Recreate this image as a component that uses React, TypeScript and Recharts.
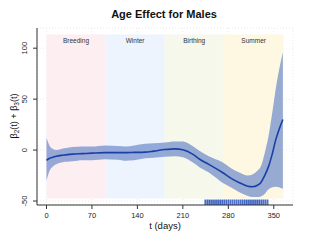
import React from 'react';
import {
  ComposedChart,
  Area,
  Line,
  XAxis,
  YAxis,
  CartesianGrid,
  ReferenceArea,
  ReferenceLine,
} from 'recharts';

const days = [0, 5, 10, 15, 25, 40, 55, 70, 90, 110, 122, 135, 152, 165, 182, 198, 210, 225, 236, 250, 271, 285, 297, 310, 317, 325, 330, 336, 342, 348, 353, 358, 364];
const mean = [-10, -8, -7, -6, -5, -4, -3.5, -3, -2.5, -2.5, -2.5, -2.3, -2, -1, 0.5, 1.2, 0.3, -4, -9, -14, -22, -28, -32, -35.5, -36, -34.5, -32, -25, -16, -3, 10, 20, 30];
const lower = [-30, -20, -16, -14, -12, -11, -10, -10, -9, -9.5, -10.5, -10, -8, -7.5, -6.5, -6, -7, -12, -17, -22, -32, -37, -41.5, -45, -46, -46, -45.5, -43, -38.5, -36.5, -36, -36.5, -38];
const upper = [12, 4, 1, 0, 1.5, 3, 3.5, 3.5, 4.6, 4, 3.5, 4.5, 6.3, 6.8, 7.5, 8.5, 8.5, 4, -1, -6, -12, -18, -22, -25, -24, -20, -16, -3, 14, 38, 60, 78, 96];

const seasons = ['Breeding', 'Winter', 'Birthing', 'Summer'];
const seasonStart = [0, 91, 182, 273];
const seasonEnd = [91, 182, 273, 365];
const seasonColors = ['#fdeef2', '#eef4fd', '#f5f8ea', '#fef8e2'];
const seasonTop = 113.4;
const seasonBottom = -47.4;

const xTicks = [0, 70, 140, 210, 280, 350];
const yTicks = [-50, 0, 50, 100];

const rugDays = [244, 245, 247, 248, 250, 251, 253, 254, 256, 257, 259, 260, 262, 263, 265, 266, 268, 269, 271, 272, 274, 275, 277, 278, 280, 281, 283, 284, 286, 287, 289, 290, 292, 293, 295, 296, 298, 299, 301, 302, 304, 305, 307, 308, 310, 311, 313, 314, 316, 317, 319, 320, 322, 323, 325, 326, 328, 329, 331, 332, 334, 335, 337, 338, 340, 341];

const X_DOMAIN: [number, number] = [-14.6, 379.6];
const Y_DOMAIN: [number, number] = [-53.9, 119.8];

const data = days.map((d, i) => ({
  day: d,
  mean: mean[i],
  range: [lower[i], upper[i]],
}));

const FONT = '"Liberation Sans", Arial, Helvetica, sans-serif';

const YTick = (props: any) => {
  const { x, y, payload } = props;
  const tx = x - 4;
  return (
    <text
      x={tx}
      y={y}
      transform={`rotate(-90 ${tx} ${y})`}
      textAnchor="middle"
      fontSize={7.5}
      fontFamily={FONT}
      fill="#222"
    >
      {payload.value}
    </text>
  );
};

const XTick = (props: any) => {
  const { x, y, payload } = props;
  return (
    <text x={x} y={y + 7} textAnchor="middle" fontSize={7.5} fontFamily={FONT} fill="#222">
      {payload.value}
    </text>
  );
};

const SeasonLabel = (text: string) => (props: any) => {
  const vb = props.viewBox || {};
  const cx = (vb.x || 0) + (vb.width || 0) / 2;
  const ty = (vb.y || 0) + 8.5;
  return (
    <text x={cx} y={ty} textAnchor="middle" fontSize={6.5} fontFamily={FONT} fill="#333">
      {text}
    </text>
  );
};

export default function App() {
  return (
    <div style={{ position: 'absolute', left: 0, top: 0, width: 312, height: 242, background: '#fff' }}>
      <ComposedChart
        width={312}
        height={242}
        data={data}
        margin={{ top: 28, right: 19, bottom: 17, left: 0 }}
      >
        <CartesianGrid stroke="#dcdcdc" strokeDasharray="1 2" strokeWidth={0.6} />
        {seasons.map((s, i) => (
          <ReferenceArea
            key={s}
            x1={seasonStart[i]}
            x2={seasonEnd[i]}
            y1={seasonBottom}
            y2={seasonTop}
            fill={seasonColors[i]}
            fillOpacity={1}
            stroke="none"
            ifOverflow="visible"
            label={SeasonLabel(s)}
          />
        ))}
        <XAxis
          dataKey="day"
          type="number"
          domain={X_DOMAIN}
          ticks={xTicks}
          allowDataOverflow
          height={20}
          tickSize={4}
          tick={<XTick />}
          stroke="#333"
        />
        <YAxis
          type="number"
          domain={Y_DOMAIN}
          ticks={yTicks}
          allowDataOverflow
          width={37}
          tickSize={4}
          tick={<YTick />}
          stroke="#333"
        />
        <XAxis xAxisId="top" orientation="top" type="number" domain={X_DOMAIN} height={0} tick={false} tickLine={false} stroke="#333" />
        <YAxis yAxisId="right" orientation="right" type="number" domain={Y_DOMAIN} width={0} tick={false} tickLine={false} stroke="#333" />
        <Area
          type="monotone"
          dataKey="range"
          stroke="none"
          fill="#6f8ccb"
          fillOpacity={0.72}
          isAnimationActive={false}
        />
        <Line
          type="monotone"
          dataKey="mean"
          stroke="#1a3fa5"
          strokeWidth={1.6}
          dot={false}
          isAnimationActive={false}
        />
        {rugDays.map((d, i) => (
          <ReferenceLine
            key={'r' + i}
            segment={[{ x: d, y: -53.9 }, { x: d, y: -48.6 }]}
            stroke="#3d63c4"
            strokeWidth={1}
            ifOverflow="visible"
          />
        ))}
      </ComposedChart>
      <svg
        width={312}
        height={242}
        style={{ position: 'absolute', left: 0, top: 0, pointerEvents: 'none' }}
      >
        <text x={164} y={18} textAnchor="middle" fontSize={11} fontWeight="bold" fontFamily={FONT} fill="#111">
          Age Effect for Males
        </text>
        <text x={165} y={229} textAnchor="middle" fontSize={9.5} fontFamily={FONT} fill="#111">
          t (days)
        </text>
        <text
          x={17}
          y={116}
          transform="rotate(-90 17 116)"
          textAnchor="middle"
          fontSize={9}
          fontFamily={FONT}
          fill="#111"
        >
          β<tspan fontSize={6.5} dy={2}>2</tspan>
          <tspan dy={-2}>(t) + β</tspan>
          <tspan fontSize={6.5} dy={2}>3</tspan>
          <tspan dy={-2}>(t)</tspan>
        </text>
      </svg>
    </div>
  );
}
